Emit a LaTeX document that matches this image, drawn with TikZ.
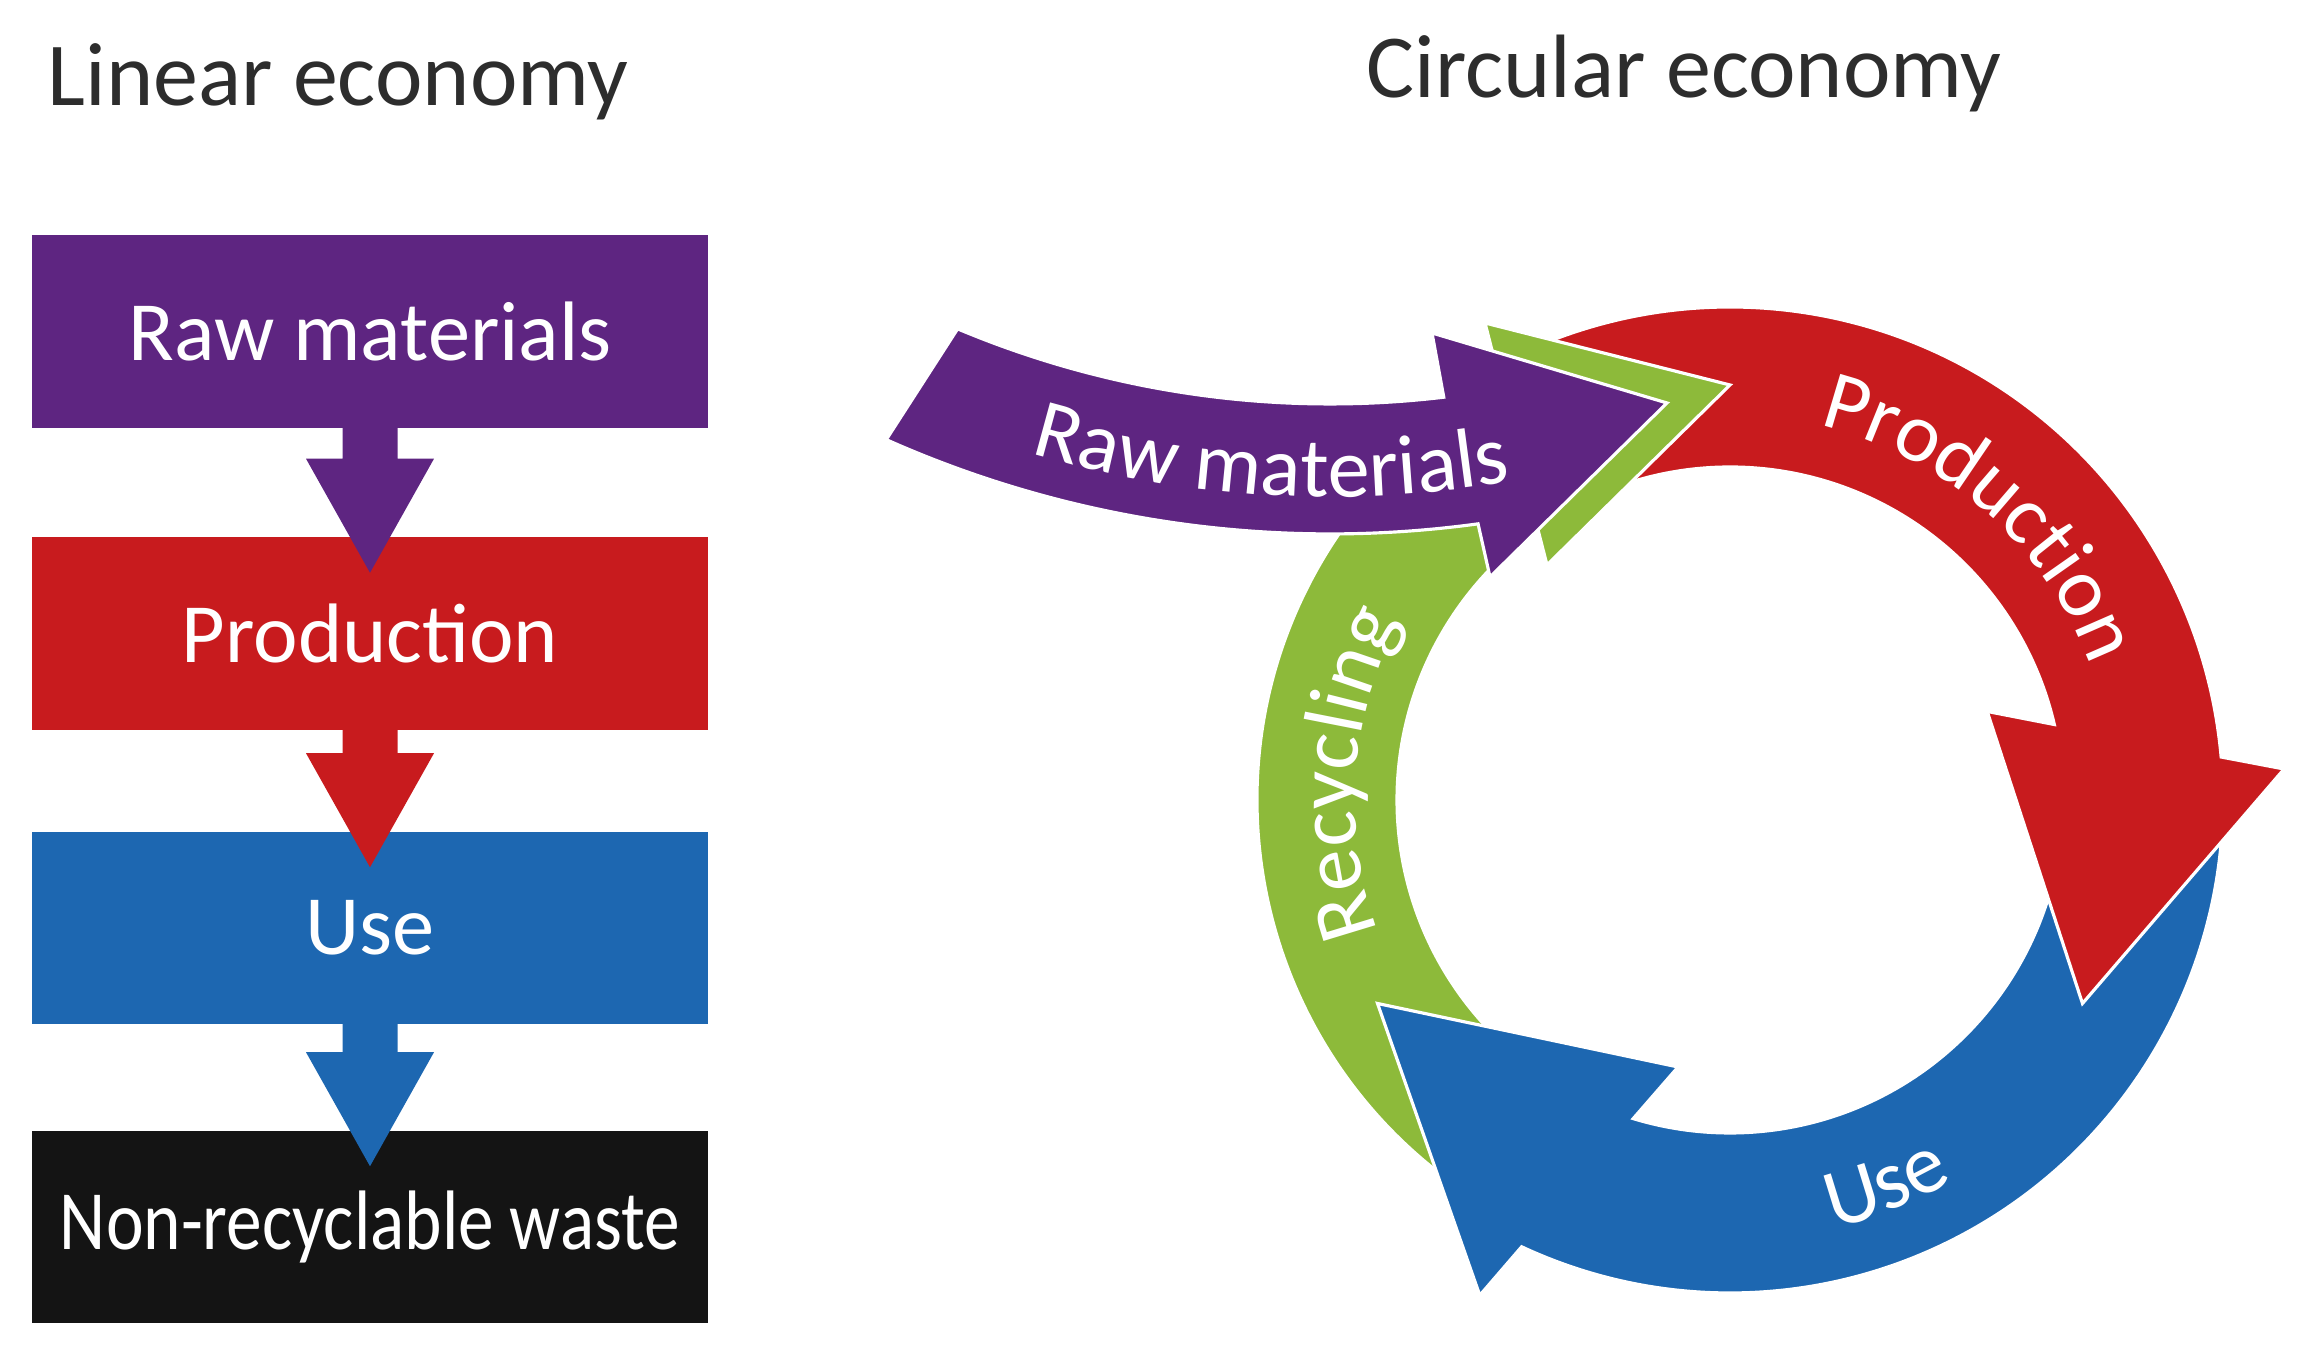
\documentclass[tikz,border=0pt]{standalone}
\usepackage{fontspec}
\setmainfont{Carlito}
\usepackage{graphicx}
\usepackage{tikz}
\usetikzlibrary{calc,decorations.text}
\definecolor{ceviolet}{RGB}{94,37,129}
\definecolor{cered}{RGB}{200,27,30}
\definecolor{ceblue}{RGB}{29,103,177}
\definecolor{cegreen}{RGB}{141,186,58}
\definecolor{ceblack}{RGB}{20,20,20}
\definecolor{cetitle}{RGB}{45,45,45}

\newcommand{\boxfont}{\fontsize{24}{28}\selectfont}
\newcommand{\titlefont}{\fontsize{25.6}{30}\selectfont}

% arrow from the bottom of box #2 into the top of box #3
\newcommand{\flowdown}[3]{%
  \fill[#1] ($(#2.south)+(-27.5,1)$) -- ($(#3.north)+(-27.5,78)$) -- ($(#3.north)+(-64,78)$)
    -- ($(#3.north)+(0,-36)$) -- ($(#3.north)+(64,78)$) -- ($(#3.north)+(27.5,78)$)
    -- ($(#2.south)+(27.5,1)$) -- cycle;}

\begin{document}
\begin{tikzpicture}[x=0.01cm, y=0.01cm,
    box/.style={fill=#1, minimum width=6.76cm, minimum height=1.92cm, inner sep=0pt, text=white, font=\boxfont},
    ringarrow/.style={fill=#1, draw=white, line width=0.9pt, line join=miter},
    ringlabel/.style={decorate, decoration={text along path, text align=center, text color=white, text={|\boxfont|#1}}}]
    \useasboundingbox (0,0) rectangle (2299,1346);

    \node[anchor=base west, inner sep=0pt, text=cetitle, font=\titlefont] (lintitle) at (47,1240) {Linear economy};
    \node[anchor=base west, inner sep=0pt, text=cetitle, font=\titlefont] (circtitle) at (1366,1248) {Circular economy};

    % linear economy
    \node[box=ceviolet] (raw)   at (370,1014.5) {Raw materials};
    \node[box=cered]    (prod)  at (370,712.5)  {Production};
    \node[box=ceblue]   (use)   at (370,418)    {Use};
    \node[box=ceblack]  (waste) at (370,119)    {\scalebox{0.845}[1]{Non-recyclable waste}};
    \flowdown{ceviolet}{raw}{prod}
    \flowdown{cered}{prod}{use}
    \flowdown{ceblue}{use}{waste}

    % circular economy
    \begin{scope}[shift={(1730,546)}]
        \filldraw[ringarrow=cegreen] (235:473) arc[start angle=235, end angle=118.9, radius=473]
            -- (-245,477) -- (0,415) -- (-183,235) -- (125.3:333)
            arc[start angle=125.3, end angle=235, radius=333] -- cycle;
        \filldraw[ringarrow=ceblue] (-3:493) arc[start angle=-3, end angle=-115, radius=493]
            -- (-116.8:555) -- (-150:407) -- (-101:272) -- (-106.9:333)
            arc[start angle=-106.9, end angle=-3, radius=333] -- cycle;
        \filldraw[ringarrow=cered] (113:493) arc[start angle=113, end angle=5, radius=493]
            -- (3.2:555) -- (-30:407) -- (19:272) -- (13.1:333)
            arc[start angle=13.1, end angle=113, radius=333] -- cycle;
        \filldraw[ringarrow=cegreen] (-245,477) -- (0,415) -- (-183,235) -- cycle;
        \path[ringlabel=Recycling] (220:375) arc[start angle=220, end angle=132, radius=375];
        \path[ringlabel=Production] (88.5:385) arc[start angle=88.5, end angle=8.5, radius=385];
        \path[ringlabel=Use] (-98:441) arc[start angle=-98, end angle=-38, radius=441];
    \end{scope}

    \begin{scope}[shift={(1330,1903)}]
        \filldraw[ringarrow=ceviolet] (246:1091) arc[start angle=246, end angle=277.8, radius=1091]
            -- (160,-1134) -- (337,-960) -- (102,-890) -- (276.8:961)
            arc[start angle=276.8, end angle=247.2, radius=961] -- cycle;
        \path[ringlabel=Raw materials] (246:1054) arc[start angle=246, end angle=287.4, radius=1054];
    \end{scope}
\end{tikzpicture}
\end{document}
